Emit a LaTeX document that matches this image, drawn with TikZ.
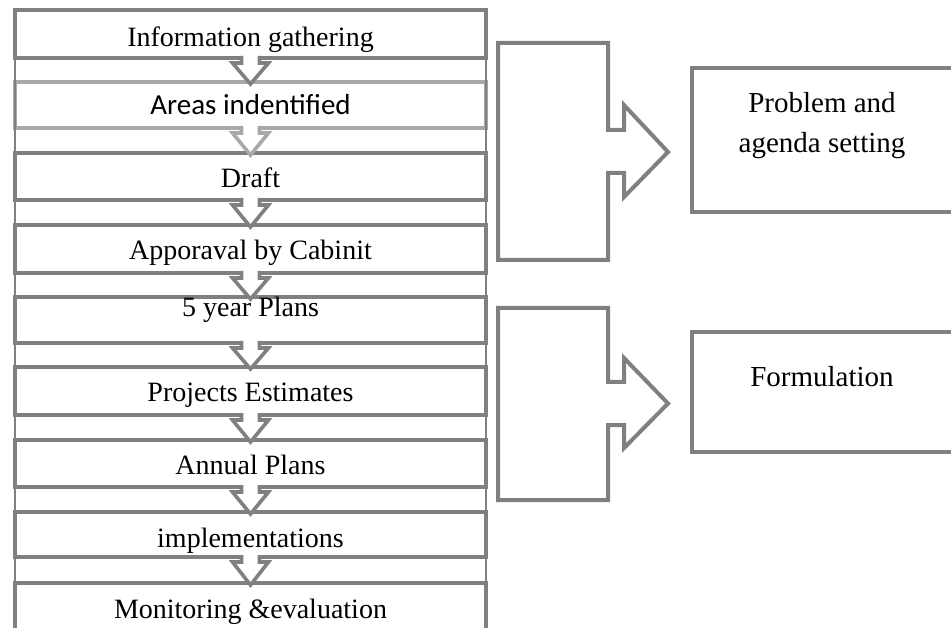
\documentclass[tikz,border=0pt]{standalone}
\usepackage{fontspec}
\setmainfont{Liberation Serif}
\newfontfamily\calibrifont{Carlito}
\usetikzlibrary{calc}
\definecolor{dk}{HTML}{808080}
\definecolor{lt}{HTML}{A8A8A8}
\tikzset{
  stepbox/.style={rectangle, draw=dk, line width=4pt, fill=white, minimum width=471pt, inner sep=0pt, outer sep=0pt},
  lbl/.style={anchor=base, inner sep=0pt, outer sep=0pt, font=\fontsize{28}{32}\selectfont},
  rlbl/.style={anchor=base, inner sep=0pt, outer sep=0pt, font=\fontsize{29}{33}\selectfont},
  sideline/.style={draw=dk, line width=1.6pt},
  arrline/.style={line width=3.6pt, line join=miter, fill=white},
  bracket/.style={draw=dk, line width=4pt, line join=miter},
  rbox/.style={rectangle, draw=dk, line width=4pt, inner sep=0pt, outer sep=0pt}
}
\newcommand\downarr[3]{%
  \fill[white] ($(#2.south)+(-9,-2)$) -- ($(#2.south)+(-9,5)$) -- ($(#2.south)+(-18,5)$) -- ($(#3.north)+(0,2)$) -- ($(#2.south)+(18,5)$) -- ($(#2.south)+(9,5)$) -- ($(#2.south)+(9,-2)$) -- cycle;
  \draw[arrline,draw=#1] ($(#2.south)+(-9,-2)$) -- ($(#2.south)+(-9,5)$) -- ($(#2.south)+(-18,5)$) -- ($(#3.north)+(0,2)$) -- ($(#2.south)+(18,5)$) -- ($(#2.south)+(9,5)$) -- ($(#2.south)+(9,-2)$);%
}
\begin{document}
\begin{tikzpicture}[x=1pt,y=-1pt]
\useasboundingbox (0,0) rectangle (951,628);
\clip (0,0) rectangle (951,628);
% left column boxes
\node[stepbox, minimum height=48pt] (b1) at (250.5,34) {};
\node[stepbox, minimum height=46pt, draw=lt] (b2) at (250.5,105) {};
\node[stepbox, minimum height=47pt] (b3) at (250.5,176.5) {};
\node[stepbox, minimum height=48pt] (b4) at (250.5,249) {};
\node[stepbox, minimum height=46pt] (b5) at (250.5,320) {};
\node[stepbox, minimum height=48pt] (b6) at (250.5,391) {};
\node[stepbox, minimum height=47pt] (b7) at (250.5,463.5) {};
\node[stepbox, minimum height=45pt] (b8) at (250.5,534.5) {};
\node[stepbox, minimum height=87pt] (b9) at (250.5,626.5) {};
% thin side lines
\draw[sideline] (b1.north west) -- (b9.south west);
\draw[sideline] (b1.north east) -- (b9.south east);
% down arrows
\downarr{dk}{b1}{b2}
\downarr{lt}{b2}{b3}
\downarr{dk}{b3}{b4}
\downarr{dk}{b4}{b5}
\downarr{dk}{b5}{b6}
\downarr{dk}{b6}{b7}
\downarr{dk}{b7}{b8}
\downarr{dk}{b8}{b9}
% labels
\node[lbl] (t1) at (250.5,47) {Information gathering};
\node[lbl, font=\calibrifont\fontsize{29}{33}\selectfont] (t2) at (250.5,115) {Areas indentified};
\node[lbl] (t3) at (250.5,188) {Draft};
\node[lbl] (t4) at (250.5,260) {Apporaval by Cabinit};
\node[lbl] (t5) at (250.5,317) {5 year Plans};
\node[lbl] (t6) at (250.5,402) {Projects Estimates};
\node[lbl] (t7) at (250.5,474) {Annual Plans};
\node[lbl] (t8) at (250.5,547) {implementations};
\node[lbl] (t9) at (250.5,618) {Monitoring \&evaluation};
% brackets
\draw[bracket] (498,43) -- (608,43) -- (608,130) -- (624,130) -- (624,105) -- (668,152) -- (624,197) -- (624,173) -- (608,173) -- (608,260) -- (498,260) -- cycle;
\draw[bracket] (498,308) -- (608,308) -- (608,382) -- (624,382) -- (624,358) -- (668,403.5) -- (624,448) -- (624,425) -- (608,425) -- (608,500) -- (498,500) -- cycle;
% right boxes
\node[rbox, minimum width=278pt, minimum height=144pt] (r1) at (831,140) {};
\node[rbox, minimum width=278pt, minimum height=120pt] (r2) at (831,392) {};
\node[rlbl] (p1) at (822,113) {Problem and};
\node[rlbl] (p2) at (822,153) {agenda setting};
\node[rlbl] (f1) at (822,387) {Formulation};
\end{tikzpicture}
\end{document}
